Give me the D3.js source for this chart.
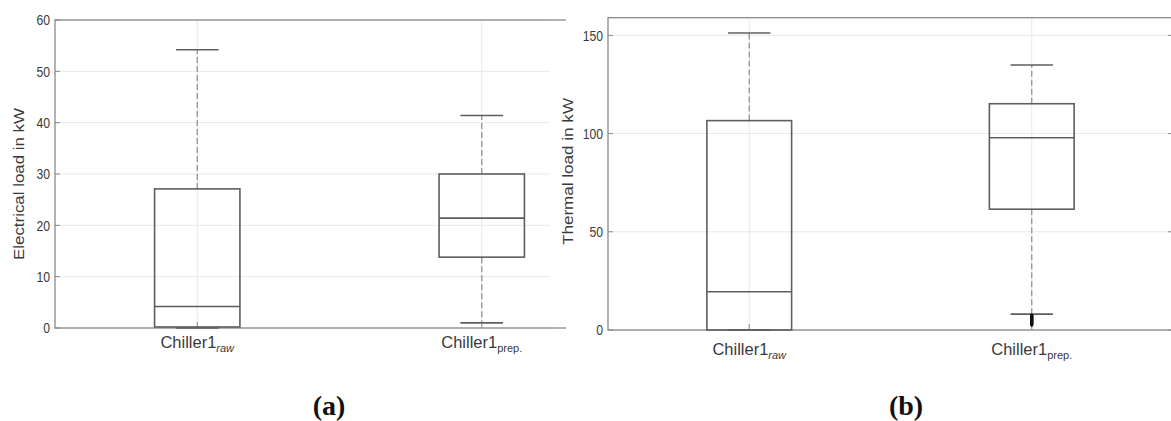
<!DOCTYPE html>
<html><head><meta charset="utf-8">
<script src="https://cdn.jsdelivr.net/npm/d3@7"></script>
<style>
body{margin:0;background:#fff;}
svg{display:block;font-family:"Liberation Sans",Arial,sans-serif;}
</style></head>
<body><svg id="c" width="1171" height="421"></svg>
<script>
// ---- data ----
const categories = ["raw", "prep."];
// panel (a): electrical load (kW)
const elecWhiskerLow = [0, 1.0];
const elecQ1 = [0.2, 13.8];
const elecMedian = [4.2, 21.4];
const elecQ3 = [27.1, 30.0];
const elecWhiskerHigh = [54.2, 41.4];
const elecOutliers = [[], []];
const elecTicks = [0, 10, 20, 30, 40, 50, 60];
// panel (b): thermal load (kW)
const thermWhiskerLow = [0, 8.1];
const thermQ1 = [0, 61.5];
const thermMedian = [19.5, 97.9];
const thermQ3 = [106.6, 115.2];
const thermWhiskerHigh = [151.2, 134.9];
const thermOutliers = [[], [7.5, 7, 6.5, 6, 5.5, 5, 4.5, 4, 3.5, 3, 2.5]];
const thermTicks = [0, 50, 100, 150];

const svg = d3.select("#c");
const axisCol = "#8a8a8a", boxCol = "#5e5e5e", gridCol = "#e9e9e9", textCol = "#3a3a3a";

function panel(cfg){
  const g = svg.append("g");
  const id = "clip" + cfg.name;
  svg.append("defs").append("clipPath").attr("id", id)
    .append("rect").attr("x", cfg.x0 - 5).attr("y", 0).attr("width", cfg.clipRight - cfg.x0 + 5).attr("height", 421);
  const x = d3.scaleLinear().domain([0.5, 2.5]).range([cfg.x0, cfg.x1]);
  const y = d3.scaleLinear().domain(cfg.domain).range([cfg.yBottom, cfg.yTop]);
  const c = g.append("g").attr("clip-path", `url(#${id})`);
  // grid
  c.selectAll("line.gy").data(cfg.ticks).join("line")
    .attr("x1", x(0.5)).attr("x2", Math.min(x(2.5), cfg.gridRight))
    .attr("y1", d => y(d)).attr("y2", d => y(d))
    .attr("stroke", gridCol).attr("stroke-width", 1);
  c.selectAll("line.gx").data(categories).join("line")
    .attr("x1", (d,i) => x(i+1)).attr("x2", (d,i) => x(i+1))
    .attr("y1", y.range()[0]).attr("y2", y.range()[1])
    .attr("stroke", gridCol).attr("stroke-width", 1);
  // frame
  c.append("rect").attr("x", x(0.5)).attr("y", cfg.yTop)
    .attr("width", x(2.5) - x(0.5)).attr("height", cfg.yBottom - cfg.yTop)
    .attr("fill", "none").attr("stroke", axisCol).attr("stroke-width", 1.3);
  // inward ticks
  const tk = c.append("g");
  cfg.ticks.forEach(t => {
    tk.append("line").attr("x1", x(0.5)).attr("x2", x(0.5) + 5).attr("y1", y(t)).attr("y2", y(t)).attr("stroke", axisCol);
    tk.append("line").attr("x1", x(2.5)).attr("x2", x(2.5) - 5).attr("y1", y(t)).attr("y2", y(t)).attr("stroke", axisCol);
  });
  categories.forEach((d, i) => {
    tk.append("line").attr("x1", x(i+1)).attr("x2", x(i+1)).attr("y1", cfg.yBottom).attr("y2", cfg.yBottom - 6).attr("stroke", axisCol);
  });
  // boxes
  const bw = 0.15, cw = 0.075;
  categories.forEach((d, i) => {
    const cx = i + 1;
    const b = c.append("g");
    b.append("line").attr("x1", x(cx)).attr("x2", x(cx)).attr("y1", y(cfg.q3[i])).attr("y2", y(cfg.wh[i]))
      .attr("stroke", "#8c8c8c").attr("stroke-dasharray", "6,3").attr("stroke-width", 1.2);
    b.append("line").attr("x1", x(cx)).attr("x2", x(cx)).attr("y1", y(cfg.q1[i])).attr("y2", y(cfg.wl[i]))
      .attr("stroke", "#8c8c8c").attr("stroke-dasharray", "6,3").attr("stroke-width", 1.2);
    [cfg.wh[i], cfg.wl[i]].forEach(v => {
      b.append("line").attr("x1", x(cx - cw)).attr("x2", x(cx + cw)).attr("y1", y(v)).attr("y2", y(v))
        .attr("stroke", boxCol).attr("stroke-width", 1.6);
    });
    b.append("rect").attr("x", x(cx - bw)).attr("y", y(cfg.q3[i]))
      .attr("width", x(cx + bw) - x(cx - bw)).attr("height", y(cfg.q1[i]) - y(cfg.q3[i]))
      .attr("fill", "none").attr("stroke", boxCol).attr("stroke-width", 1.6);
    b.append("line").attr("x1", x(cx - bw)).attr("x2", x(cx + bw)).attr("y1", y(cfg.med[i])).attr("y2", y(cfg.med[i]))
      .attr("stroke", boxCol).attr("stroke-width", 1.6);
    b.selectAll("circle").data(cfg.out[i]).join("circle")
      .attr("cx", x(cx)).attr("cy", v => y(v)).attr("r", 1.7).attr("fill", "#111");
  });
  // tick labels (vertically stretched, as in the reference)
  g.selectAll("text.yt").data(cfg.ticks).join("text")
    .attr("transform", d => `translate(${x(0.5) - 5},${y(d)}) scale(1,1.25)`)
    .attr("dy", "0.35em")
    .attr("text-anchor", "end").attr("font-size", 12.2).attr("fill", textCol)
    .text(d => d);
  categories.forEach((d, i) => {
    const t = g.append("text").attr("x", x(i+1)).attr("y", cfg.xlabY)
      .attr("text-anchor", "middle").attr("font-size", 16.5).attr("fill", textCol);
    t.append("tspan").text("Chiller1");
    t.append("tspan").attr("font-size", 11).attr("dy", 4)
      .attr("font-style", i === 0 ? "italic" : "normal").text(d);
  });
  // y label
  g.append("text").attr("transform", `translate(${cfg.ylabX},${cfg.ylabY}) rotate(-90)`)
    .attr("text-anchor", "middle").attr("font-size", 14.5).attr("fill", textCol)
    .attr("textLength", cfg.ylabLen).attr("lengthAdjust", "spacingAndGlyphs").text(cfg.ylabel);
  // panel label
  g.append("text").attr("x", cfg.plX).attr("y", 415).attr("text-anchor", "middle")
    .attr("font-family", "'Liberation Serif','DejaVu Serif',serif").attr("font-weight", "bold")
    .attr("font-size", 28).attr("fill", "#111").text(cfg.panelLabel);
}

panel({name: "a", x0: 55, x1: 624, clipRight: 566, gridRight: 550, yTop: 20, yBottom: 328,
  domain: [0, 60], ticks: elecTicks,
  wl: elecWhiskerLow, q1: elecQ1, med: elecMedian, q3: elecQ3, wh: elecWhiskerHigh, out: elecOutliers,
  xlabY: 348, ylabX: 24, ylabY: 184, ylabLen: 152, ylabel: "Electrical load in kW", plX: 329, panelLabel: "(a)"});

panel({name: "b", x0: 608, x1: 1173, clipRight: 1180, gridRight: 2000, yTop: 17.7, yBottom: 330,
  domain: [0, 159], ticks: thermTicks,
  wl: thermWhiskerLow, q1: thermQ1, med: thermMedian, q3: thermQ3, wh: thermWhiskerHigh, out: thermOutliers,
  xlabY: 355, ylabX: 573, ylabY: 171.5, ylabLen: 147, ylabel: "Thermal load in kW", plX: 906, panelLabel: "(b)"});
</script>
</body></html>
